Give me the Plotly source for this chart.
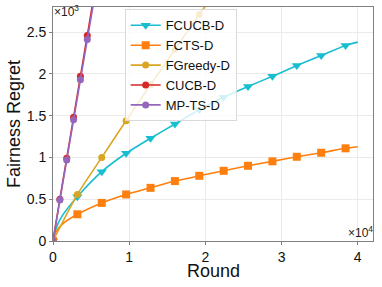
import plotly.graph_objects as go

# ---------------- data (x in rounds, y in regret) ----------------
marker_rounds = [0, 3200, 6400, 9600, 12800, 16000, 19200, 22400, 25600, 28800, 32000, 35200, 38400]

fcucb_line_x = [0, 400, 1200, 3200, 6400, 9600, 12800, 16000, 19200, 22400, 25600, 28800, 32000, 35200, 38400, 40000]
fcucb_line_y = [0, 150, 300, 530, 830, 1050, 1230, 1400, 1570, 1720, 1850, 1970, 2100, 2220, 2340, 2380]
fcucb_mark_y = [0, 530, 830, 1050, 1230, 1400, 1570, 1720, 1850, 1970, 2100, 2220, 2340]

fcts_line_x = [0, 400, 1200, 3200, 6400, 9600, 12800, 16000, 19200, 22400, 25600, 28800, 32000, 35200, 38400, 40000]
fcts_line_y = [0, 110, 200, 320, 456, 557, 636, 717, 780, 840, 900, 953, 1008, 1056, 1109, 1128]
fcts_mark_y = [0, 320, 456, 557, 636, 717, 780, 840, 900, 953, 1008, 1056, 1109]

fgreedy_x = [0, 3200, 6400, 9600, 12800, 16000, 19200, 22400]
fgreedy_y = [0, 557, 1000, 1440, 1870, 2290, 2710, 3120]

cucb_x = [0, 900, 1800, 2700, 3600, 4500, 5400]
cucb_y = [0, 500, 990, 1480, 1970, 2460, 2950]

mpts_x = [0, 900, 1800, 2700, 3600, 4500, 5400]
mpts_y = [0, 490, 970, 1450, 1930, 2410, 2890]

x_tickvals = [0, 10000, 20000, 30000, 40000]
x_ticktext = ["0", "1", "2", "3", "4"]
y_tickvals = [0, 500, 1000, 1500, 2000, 2500]
y_ticktext = ["0", "0.5", "1", "1.5", "2", "2.5"]

names = ["FCUCB-D", "FCTS-D", "FGreedy-D", "CUCB-D", "MP-TS-D"]
colors = ["#17becf", "#ff7f0e", "#daa520", "#d62728", "#9467bd"]
symbols = ["triangle-down", "square", "circle", "circle", "circle"]
msizes = [9, 8, 7, 7, 7]

series = [
    (fcucb_line_x, fcucb_line_y, marker_rounds, fcucb_mark_y),
    (fcts_line_x, fcts_line_y, marker_rounds, fcts_mark_y),
    (fgreedy_x, fgreedy_y, fgreedy_x, fgreedy_y),
    (cucb_x, cucb_y, cucb_x, cucb_y),
    (mpts_x, mpts_y, mpts_x, mpts_y),
]

FONT = "Liberation Sans, Arial, sans-serif"

fig = go.Figure()
for (lx, ly, mx, my), name, c, sym, ms in zip(series, names, colors, symbols, msizes):
    fig.add_trace(go.Scatter(x=lx, y=ly, mode="lines", showlegend=False,
                             line=dict(color=c, width=1.6, shape="spline", smoothing=0.6),
                             legendgroup=name, hoverinfo="skip"))
    fig.add_trace(go.Scatter(x=mx, y=my, mode="markers", showlegend=False,
                             marker=dict(color=c, symbol=sym, size=ms, line=dict(width=0)),
                             legendgroup=name))
    # legend entry
    fig.add_trace(go.Scatter(x=[None], y=[None], mode="lines+markers", name=name,
                             legendgroup=name,
                             line=dict(color=c, width=1.6),
                             marker=dict(color=c, symbol=sym, size=ms)))

axis_common = dict(
    showline=True, linecolor="#808080", linewidth=1, mirror=True,
    ticks="outside", ticklen=3, tickcolor="#808080",
    showgrid=True, gridcolor="#ebebeb", gridwidth=1, zeroline=False,
    tickfont=dict(family=FONT, size=14, color="#111"),
    automargin=False,
)

fig.update_xaxes(range=[0, 42000], tickvals=x_tickvals, ticktext=x_ticktext, **axis_common)
fig.update_yaxes(range=[0, 2800], tickvals=y_tickvals, ticktext=y_ticktext, **axis_common)

# axis titles
fig.add_annotation(text="Round", xref="paper", yref="paper", x=0.5, y=0,
                   xanchor="center", yanchor="middle", yshift=-30, showarrow=False,
                   font=dict(family=FONT, size=18, color="#111"))
fig.add_annotation(text="Fairness Regret", xref="paper", yref="paper", x=0, y=0.5,
                   xanchor="center", yanchor="middle", xshift=-39, textangle=-90, showarrow=False,
                   font=dict(family=FONT, size=18, color="#111"))

# offset (scale) texts
fig.add_annotation(text="×10<sup>3</sup>", xref="paper", yref="paper", x=0, y=1,
                   xanchor="left", yanchor="top", showarrow=False, yshift=6, xshift=-1,
                   font=dict(family=FONT, size=12, color="#222"))
fig.add_annotation(text="×10<sup>4</sup>", xref="paper", yref="paper", x=1, y=0,
                   xanchor="right", yanchor="bottom", showarrow=False, yshift=-1, xshift=2,
                   font=dict(family=FONT, size=12, color="#222"))

fig.update_layout(
    width=382, height=287,
    margin=dict(l=53, r=9, t=7, b=46, autoexpand=False),
    paper_bgcolor="white", plot_bgcolor="white",
    legend=dict(x=0.224, y=0.99, xanchor="left", yanchor="top",
                bgcolor="rgba(255,255,255,0.8)", bordercolor="#d9d9d9", borderwidth=1,
                font=dict(family=FONT, size=13, color="#111"),
                tracegroupgap=0),
    showlegend=True,
)

fig.write_html("out.html", config={"displayModeBar": False},
               post_script="document.body.style.margin='0';document.body.style.padding='0';")
